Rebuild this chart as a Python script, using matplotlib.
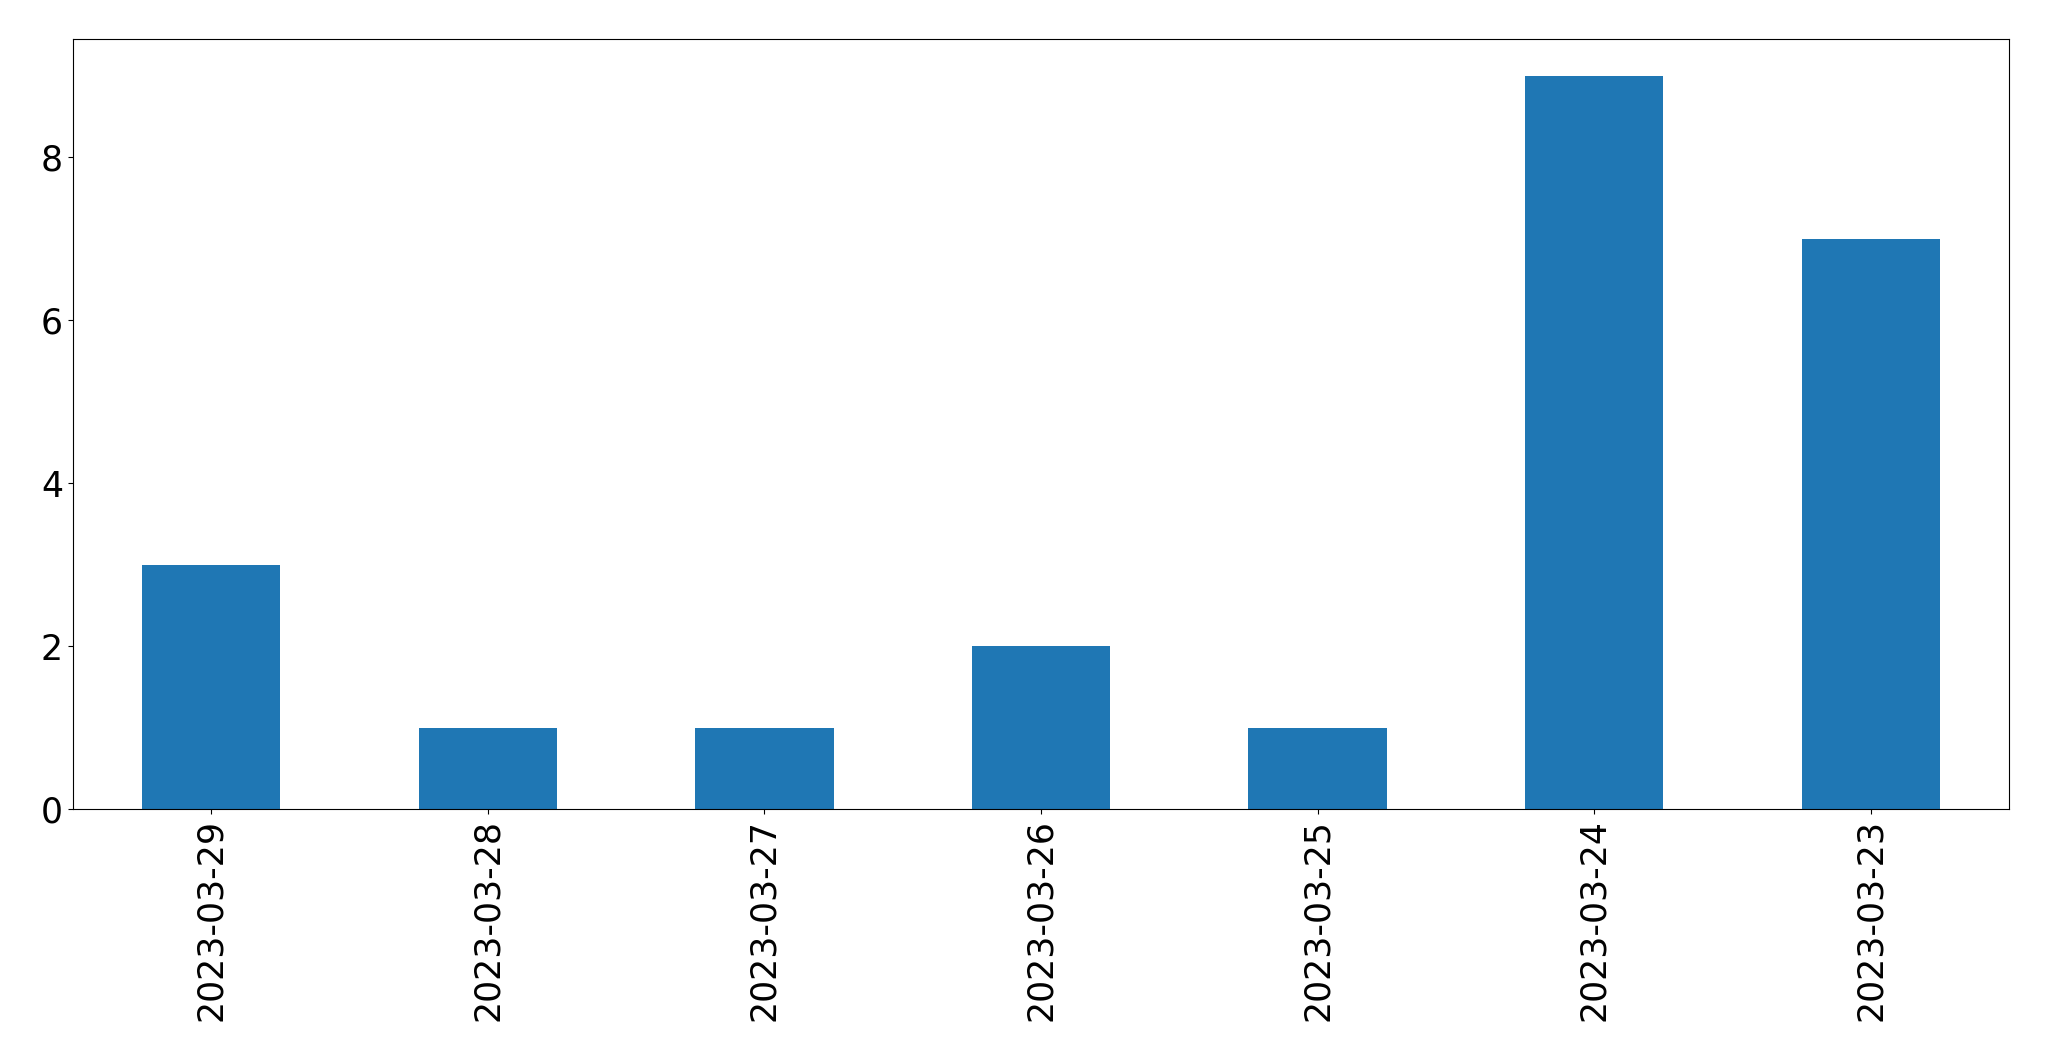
import matplotlib
matplotlib.use("Agg")
import matplotlib.pyplot as plt

dates = ["2023-03-29", "2023-03-28", "2023-03-27", "2023-03-26",
         "2023-03-25", "2023-03-24", "2023-03-23"]
counts = [3, 1, 1, 2, 1, 9, 7]

fig = plt.figure(figsize=(20.49, 10.61), dpi=100)
ax = fig.add_axes([72.7 / 2049, 1 - 809 / 1061, (2009.3 - 72.7) / 2049, (809 - 39.3) / 1061])
x = list(range(len(dates)))
ax.bar(x, counts, width=0.5, color="#1f77b4")
ax.set_xlim(-0.5, len(dates) - 0.5)
ax.set_ylim(0, max(counts) * 1.05)
ax.set_xticks(x)
ax.set_xticklabels(dates, rotation=90)
ax.tick_params(labelsize=25)
fig.savefig("out.png", dpi=100)
